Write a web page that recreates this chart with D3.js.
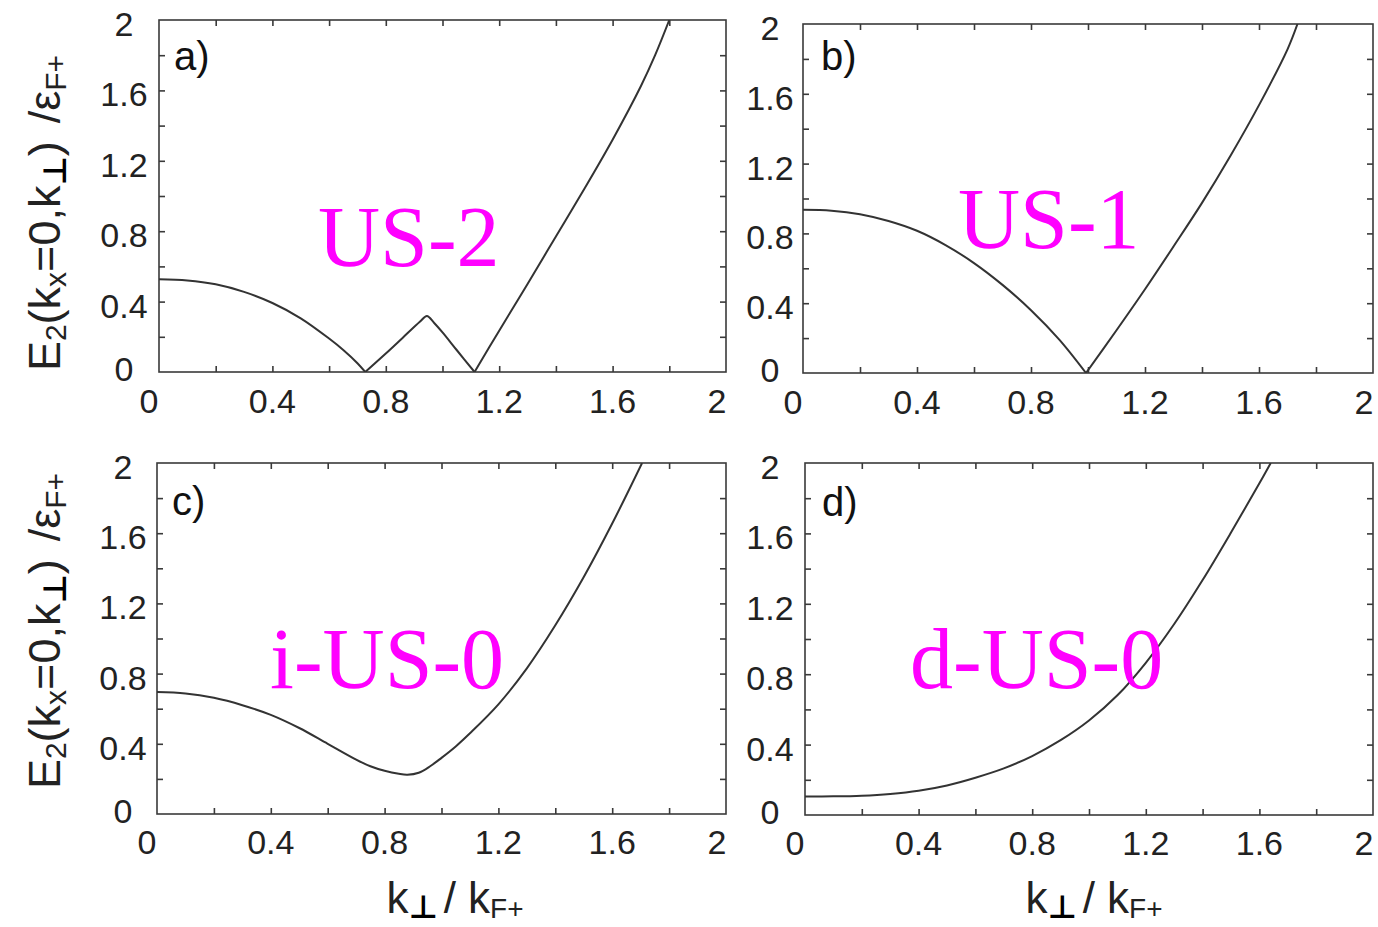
<!DOCTYPE html>
<html>
<head>
<meta charset="utf-8">
<script src="https://cdn.jsdelivr.net/npm/d3@7"></script>
<style>
  html, body { margin: 0; padding: 0; background: #fff; }
  svg { display: block; }
</style>
</head>
<body>
<svg id="chart" width="1378" height="927"></svg>
<script>
// Tick grid (every 0.2) and the labelled subset
const tickValues = [0, 0.2, 0.4, 0.6, 0.8, 1.0, 1.2, 1.4, 1.6, 1.8, 2.0];
const xTickLabels = ["0", "0.4", "0.8", "1.2", "1.6", "2"];
const yTickLabels = ["0", "0.4", "0.8", "1.2", "1.6", "2"];
const panelLetters = ["a)", "b)", "c)", "d)"];
const phaseNames = ["US-2", "US-1", "i-US-0", "d-US-0"];

// Panel a: two nodes (E = 0) and a small hump between them
const kA = [0, 0.1, 0.2, 0.3, 0.4, 0.5, 0.6, 0.65, 0.7, 0.7275,
            0.80, 0.86, 0.92, 0.945, 0.97, 1.0, 1.05, 1.113,
            1.2, 1.3, 1.4, 1.5, 1.6, 1.7, 1.75, 1.80];
const eA = [0.527, 0.52, 0.498, 0.455, 0.392, 0.305, 0.19, 0.125, 0.05, 0,
            0.105, 0.195, 0.285, 0.318, 0.28, 0.225, 0.125, 0,
            0.235, 0.50, 0.77, 1.04, 1.32, 1.625, 1.80, 2.0];

// Panel b: single node near k = 1
const kB = [0, 0.1, 0.2, 0.3, 0.4, 0.5, 0.6, 0.7, 0.8, 0.9, 0.993,
            1.1, 1.2, 1.3, 1.4, 1.5, 1.6, 1.7, 1.735];
const eB = [0.935, 0.930, 0.910, 0.871, 0.815, 0.733, 0.630, 0.505, 0.36, 0.19, 0,
            0.245, 0.48, 0.725, 0.975, 1.245, 1.535, 1.855, 2.0];

// Panel c: gapped, minimum away from k = 0
const kC = [0, 0.1, 0.2, 0.3, 0.4, 0.5, 0.6, 0.7, 0.75, 0.8, 0.85, 0.88, 0.92, 0.96,
            1.0, 1.05, 1.1, 1.2, 1.3, 1.4, 1.5, 1.6, 1.705];
const eC = [0.695, 0.687, 0.662, 0.62, 0.565, 0.49, 0.40, 0.31, 0.272, 0.246, 0.229, 0.224, 0.235, 0.272,
            0.32, 0.385, 0.46, 0.625, 0.83, 1.075, 1.35, 1.655, 2.0];

// Panel d: gapped, minimum at k = 0
const kD = [0, 0.1, 0.2, 0.3, 0.4, 0.5, 0.6, 0.7, 0.8, 0.9,
            1.0, 1.1, 1.2, 1.3, 1.4, 1.5, 1.6, 1.64];
const eD = [0.105, 0.106, 0.11, 0.12, 0.138, 0.168, 0.212, 0.265, 0.335, 0.425,
            0.537, 0.68, 0.865, 1.085, 1.335, 1.605, 1.885, 2.0];

const series = [[kA, eA], [kB, eB], [kC, eC], [kD, eD]];

// Frame boxes and text anchors for the 2x2 grid
const layout = [
  { x0: 159, x1: 726,  y0: 20,  y1: 372, yLabX: 124, xLabY: 413, letter: [174, 70],  name: [318, 266] },
  { x0: 803, x1: 1373, y0: 24,  y1: 373, yLabX: 770, xLabY: 414, letter: [821, 70],  name: [958, 248] },
  { x0: 157, x1: 726,  y0: 463, y1: 814, yLabX: 123, xLabY: 854, letter: [172, 515], name: [270, 688] },
  { x0: 805, x1: 1373, y0: 463, y1: 815, yLabX: 770, xLabY: 855, letter: [822, 516], name: [910, 688] }
];

const svg = d3.select("#chart");
svg.append("rect").attr("width", 1378).attr("height", 927).attr("fill", "#fff");

const sansFont = "'Liberation Sans', Arial, Helvetica, sans-serif";
const axisColor = "#3a3a3a";

layout.forEach((p, i) => {
  const x = d3.scaleLinear().domain([0, 2]).range([p.x0, p.x1]);
  const y = d3.scaleLinear().domain([0, 2]).range([p.y1, p.y0]);
  const g = svg.append("g");
  const inner = tickValues.slice(1, -1);

  const clipId = "clip" + i;
  g.append("clipPath").attr("id", clipId)
    .append("rect").attr("x", p.x0).attr("y", p.y0)
    .attr("width", p.x1 - p.x0).attr("height", p.y1 - p.y0);

  // inward ticks on all four sides
  const axes = [
    [d3.axisBottom(x), `translate(0,${p.y1})`],
    [d3.axisTop(x), `translate(0,${p.y0})`],
    [d3.axisLeft(y), `translate(${p.x0},0)`],
    [d3.axisRight(y), `translate(${p.x1},0)`]
  ];
  axes.forEach(([ax, tr]) => {
    const a = g.append("g").attr("transform", tr)
      .call(ax.tickValues(inner).tickSize(-6).tickSizeOuter(0).tickFormat(""));
    a.select(".domain").remove();
    a.selectAll(".tick line").attr("stroke", axisColor).attr("stroke-width", 1.6);
  });

  // frame
  g.append("rect")
    .attr("x", p.x0).attr("y", p.y0)
    .attr("width", p.x1 - p.x0).attr("height", p.y1 - p.y0)
    .attr("fill", "none").attr("stroke", axisColor).attr("stroke-width", 1.6);

  // x tick labels
  g.selectAll(".xl").data(xTickLabels).join("text")
    .attr("x", d => x(+d) + (+d === 0 ? -10 : (+d === 2 ? -9 : 0)))
    .attr("y", p.xLabY)
    .attr("text-anchor", "middle")
    .attr("font-family", sansFont).attr("font-size", 34).attr("fill", "#222")
    .text(d => d);

  // y tick labels
  g.selectAll(".yl").data(yTickLabels).join("text")
    .attr("x", p.yLabX)
    .attr("y", d => y(+d) + (+d === 0 ? 9 : 16))
    .attr("text-anchor", "middle")
    .attr("font-family", sansFont).attr("font-size", 34).attr("fill", "#222")
    .text(d => d);

  // curve, split at the nodes so the cusps stay sharp
  const [ks, es] = series[i];
  const pts = ks.map((k, j) => [k, es[j]]);
  const segments = [];
  let cur = [];
  pts.forEach((pt, j) => {
    cur.push(pt);
    if (pt[1] === 0 && j > 0 && j < pts.length - 1) {
      segments.push(cur);
      cur = [pt];
    }
  });
  segments.push(cur);

  const line = d3.line()
    .x(d => x(d[0])).y(d => y(d[1]))
    .curve(d3.curveCatmullRom.alpha(0.5));
  g.append("g").attr("clip-path", `url(#${clipId})`)
    .selectAll("path").data(segments).join("path")
    .attr("d", line)
    .attr("fill", "none").attr("stroke", "#333").attr("stroke-width", 2)
    .attr("stroke-linejoin", "round");

  // panel letter
  g.append("text")
    .attr("x", p.letter[0]).attr("y", p.letter[1])
    .attr("font-family", sansFont).attr("font-size", 40).attr("fill", "#111")
    .text(panelLetters[i]);

  // phase name
  g.append("text")
    .attr("x", p.name[0]).attr("y", p.name[1])
    .attr("font-family", "'Liberation Serif', 'Times New Roman', serif")
    .attr("font-size", 86).attr("fill", "#ff00ff")
    .text(phaseNames[i]);
});

// y-axis titles (one per row)
function yTitle(cx, cy) {
  const t = svg.append("text")
    .attr("transform", `translate(${cx},${cy}) rotate(-90)`)
    .attr("text-anchor", "middle")
    .attr("font-family", sansFont).attr("font-size", 45).attr("fill", "#222");
  t.append("tspan").text("E");
  t.append("tspan").attr("font-size", 30).attr("dy", 6).text("2");
  t.append("tspan").attr("dy", -6).text("(k");
  t.append("tspan").attr("font-size", 30).attr("dy", 6).text("x");
  t.append("tspan").attr("dy", -6).text("=0,k");
  t.append("tspan").attr("font-family", "'DejaVu Sans', sans-serif").attr("font-weight", "bold")
    .attr("font-size", 32).attr("dy", 6).attr("fill", "#000").text("⊥");
  t.append("tspan").attr("dy", -6).text(")");
  t.append("tspan").attr("dx", 18).text("/ε");
  t.append("tspan").attr("font-size", 30).attr("dy", 6).text("F+");
}
yTitle(60, 213);
yTitle(60, 631);

// x-axis titles (one per column)
function xTitle(cx, cy) {
  const t = svg.append("text")
    .attr("x", cx).attr("y", cy)
    .attr("text-anchor", "middle")
    .attr("font-family", sansFont).attr("font-size", 44).attr("fill", "#222");
  t.append("tspan").text("k");
  t.append("tspan").attr("font-family", "'DejaVu Sans', sans-serif").attr("font-weight", "bold")
    .attr("font-size", 32).attr("dy", 5).attr("fill", "#000").text("⊥");
  t.append("tspan").attr("dy", -5).attr("dx", 6).text("/ k");
  t.append("tspan").attr("font-size", 28).attr("dy", 5).text("F+");
}
xTitle(455, 913);
xTitle(1094, 913);
</script>
</body>
</html>
